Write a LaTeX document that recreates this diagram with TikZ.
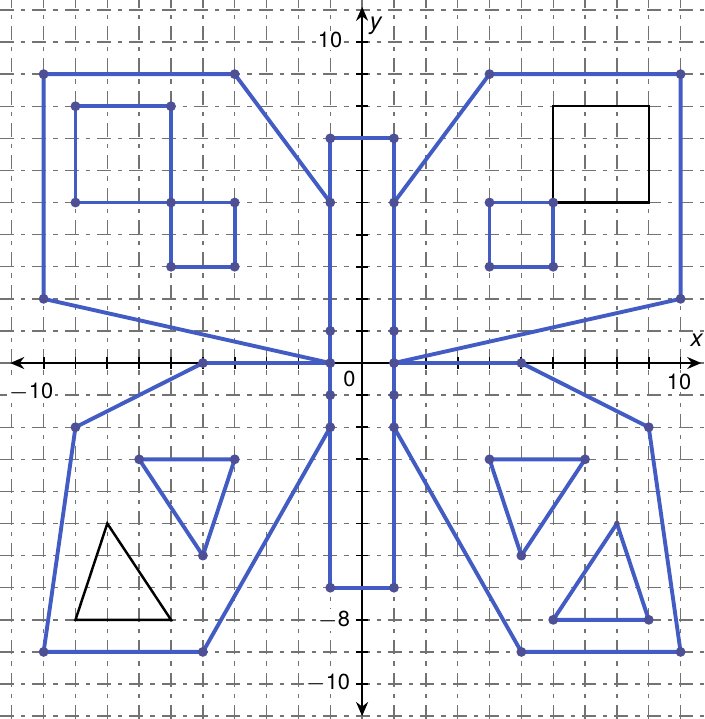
\documentclass[tikz,border=0pt]{standalone}
\usepackage{fontspec}
\setmainfont{TeX Gyre Heros}
\usetikzlibrary{arrows.meta}
\definecolor{pen}{RGB}{66,92,196}
\definecolor{dotc}{RGB}{78,80,150}
\definecolor{gridc}{RGB}{115,115,115}
\begin{document}
\begin{tikzpicture}[x=0.3185cm,y=0.321cm,
  gridline/.style={draw=gridc,line width=0.4pt,dash pattern=on 4pt off 2pt on 1.2pt off 2pt},
  axisline/.style={draw=black,line width=0.75pt,{Stealth[length=4pt,width=3.4pt]}-{Stealth[length=4pt,width=3.4pt]}},
  tickmark/.style={draw=black,line width=0.5pt},
  wing/.style={draw=pen,line width=1.1pt,line join=round,line cap=round},
  orig/.style={draw=black,line width=0.7pt,line join=miter},
  vdot/.style={fill=dotc},
  lab/.style={font=\fontsize{6.2}{7}\selectfont,inner sep=0.5pt,fill=white}]
\useasboundingbox (-11.37,-11.09) rectangle (10.74,11.31);
\fill[white] (-11.37,-11.09) rectangle (10.74,11.31);
% grid
\foreach \i in {-11,...,10} \draw[gridline] (\i,-11.09) -- (\i,11.31);
\foreach \j in {-11,...,11} \draw[gridline] (-11.37,\j) -- (10.74,\j);
% axes
\draw[axisline] (-11.05,0) -- (10.65,0);
\draw[axisline] (0,-11.0) -- (0,11.1);
\foreach \i in {-10,...,10} \draw[tickmark] (\i,-0.18) -- (\i,0.18);
\foreach \j in {-10,...,10} \draw[tickmark] (-0.18,\j) -- (0.18,\j);
% labels
\node[lab,font=\fontsize{6.8}{7}\selectfont\itshape] (xl) at (10.5,0.72) {x};
\node[lab,font=\fontsize{6.8}{7}\selectfont\itshape] (yl) at (0.42,10.5) {y};
\node[lab,anchor=east] (ytop) at (-0.55,10.05) {10};
\node[lab,anchor=east] (ym8) at (-0.3,-8) {$-$8};
\node[lab,anchor=east] (ym10) at (-0.3,-9.97) {$-$10};
\node[lab] (zero) at (-0.4,-0.5) {0};
\node[lab] (xm10) at (-10.4,-0.9) {$-$10};
\node[lab] (xp10) at (9.95,-0.6) {10};
% original (black) figures
\draw[orig] (6,8) rectangle (9,5);
\draw[orig] (-8,-5) -- (-9,-8) -- (-6,-8) -- cycle;
% blue figure
\draw[wing] (-1,7) rectangle (1,-7);
\draw[wing] (-1,5) -- (-4,9) -- (-10,9) -- (-10,2) -- (-1,0);
\draw[wing] (1,5) -- (4,9) -- (10,9) -- (10,2) -- (1,0);
\draw[wing] (-1,0) -- (-5,0) -- (-9,-2) -- (-10,-9) -- (-5,-9) -- (-1,-2);
\draw[wing] (1,0) -- (5,0) -- (9,-2) -- (10,-9) -- (5,-9) -- (1,-2);
\draw[wing] (-9,8) rectangle (-6,5);
\draw[wing] (-6,5) rectangle (-4,3);
\draw[wing] (4,5) rectangle (6,3);
\draw[wing] (-7,-3) -- (-4,-3) -- (-5,-6) -- cycle;
\draw[wing] (4,-3) -- (7,-3) -- (5,-6) -- cycle;
\draw[wing] (8,-5) -- (6,-8) -- (9,-8) -- cycle;
% vertex dots
\foreach \p in {(-10,9),(-4,9),(-1,5),(-10,2),(-1,0),(-1,1),(-1,7),(1,7),
  (-9,8),(-6,8),(-9,5),(-6,5),(-4,5),(-6,3),(-4,3),
  (4,9),(10,9),(1,5),(10,2),(1,0),(1,1),(4,5),(6,5),(4,3),(6,3),
  (-5,0),(-9,-2),(-10,-9),(-5,-9),(-1,-2),(-1,-1),(-1,-7),(-7,-3),(-4,-3),(-5,-6),
  (5,0),(9,-2),(10,-9),(5,-9),(1,-2),(1,-1),(1,-7),(4,-3),(7,-3),(5,-6),(6,-8),(9,-8)}
  \fill[vdot] \p circle (1.4pt);
\fill[vdot] (8,-5) circle (0.8pt);
\end{tikzpicture}
\end{document}
